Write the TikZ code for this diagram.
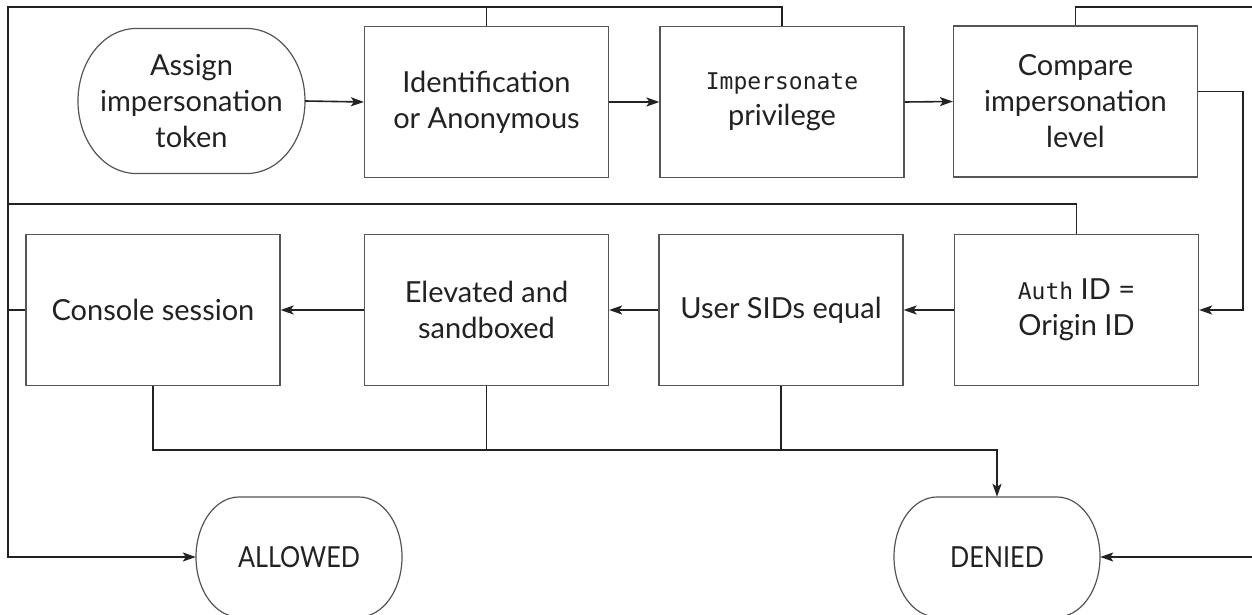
\documentclass[tikz,border=0pt]{standalone}
\usepackage{fontspec}
\setmainfont{Lato}
\setmonofont{DejaVu Sans Mono}
\usetikzlibrary{arrows.meta,calc}
\definecolor{boxc}{HTML}{555555}
\definecolor{linec}{HTML}{222222}
\definecolor{txtc}{HTML}{222222}
\newcommand\mono[1]{{\fontsize{23}{36}\selectfont\ttfamily #1}}
\newcommand\stadpath[5]{%
  \pgfmathsetmacro\stdA{#1+#5}\pgfmathsetmacro\stdB{#3-#5}%
  \pgfmathsetmacro\stdC{(#2+#4)/2}\pgfmathsetmacro\stdR{(#4-#2)/2}%
  \pgfmathsetmacro\stdKx{0.5523*#5}\pgfmathsetmacro\stdKy{0.5523*\stdR}%
  \draw[stadline] (\stdA,#2) -- (\stdB,#2)
    .. controls ({\stdB+\stdKx},#2) and (#3,{\stdC-\stdKy}) .. (#3,\stdC)
    .. controls (#3,{\stdC+\stdKy}) and ({\stdB+\stdKx},#4) .. (\stdB,#4)
    -- (\stdA,#4)
    .. controls ({\stdA-\stdKx},#4) and (#1,{\stdC+\stdKy}) .. (#1,\stdC)
    .. controls (#1,{\stdC-\stdKy}) and ({\stdA-\stdKx},#2) .. cycle;}
\begin{document}
\begin{tikzpicture}[x=1pt,y=-1pt,
  txt/.style={font=\fontsize{29}{36}\selectfont, text=txtc, align=center, inner sep=0pt},
  box/.style={txt, draw=boxc, line width=1.2pt, minimum width=244pt, minimum height=151pt},
  term/.style={txt},
  stadline/.style={draw=boxc, line width=1.2pt},
  conn/.style={draw=linec, line width=1.6pt},
  arr/.style={conn, -{Stealth[length=13pt,width=9pt,inset=3pt]}}]
\useasboundingbox (0,0) rectangle (1252,615);
\fill[white] (0,0) rectangle (1252,615);
% top row
\node[term, minimum width=227pt, minimum height=145pt] (assign) at (191.5,101) {Assign\\impersonation\\token};
\stadpath{78}{28.5}{305}{173.5}{58}
\node[box] (ident) at (486.5,102) {Identification\\or Anonymous};
\node[box] (imp) at (782,102) {\mono{Impersonate}\\privilege};
\node[box] (comp) at (1075.5,101.5) {Compare\\impersonation\\level};
% second row
\node[box, minimum width=254pt] (console) at (153,310) {Console session};
\node[box] (elev) at (486.5,310) {Elevated and\\sandboxed};
\node[box] (user) at (781,310) {User SIDs equal};
\node[box] (auth) at (1076.5,310) {\mono{Auth} ID =\\Origin ID};
% terminals
\node[term, minimum width=206pt, minimum height=120pt] (allowed) at (299,557) {\scalebox{0.87}[1]{ALLOWED}};
\stadpath{196}{497}{402}{617}{43}
\node[term, minimum width=206pt, minimum height=120pt] (denied) at (997,557) {\scalebox{0.87}[1]{DENIED}};
\stadpath{894}{497}{1100}{617}{43}
% helper coordinates
\coordinate (tl) at (8,7);
\coordinate (ml) at (8,204);
\coordinate (tr) at (1252,7);
\coordinate (rr) at (1243,310);
\coordinate (dr) at (1252,557);
\coordinate (bus) at (0,450);
% connectors
\draw[arr] (assign.east) -- (ident.west);
\draw[arr] (ident.east) -- (imp.west);
\draw[arr] (imp.east) -- (comp.west);
\draw[arr] (auth.west) -- (user.east);
\draw[arr] (user.west) -- (elev.east);
\draw[arr] (elev.west) -- (console.east);
\draw[arr] (ident.north) |- (tl) |- (allowed.west);
\draw[conn] (imp.north) |- (ident.north |- tl);
\draw[conn] (auth.north) |- (ml);
\draw[conn] (console.west) -- (console.west -| tl);
\draw[arr] ([yshift=10pt]comp.east) -| (rr) -- (auth.east);
\draw[conn] (comp.north) |- (tr);
\draw[arr] (dr) -- (denied.east);
\draw[arr] (console.south) |- (bus -| denied.north) -- (denied.north);
\draw[conn] (elev.south) -- (elev.south |- bus);
\draw[conn] (user.south) -- (user.south |- bus);
\end{tikzpicture}
\end{document}
